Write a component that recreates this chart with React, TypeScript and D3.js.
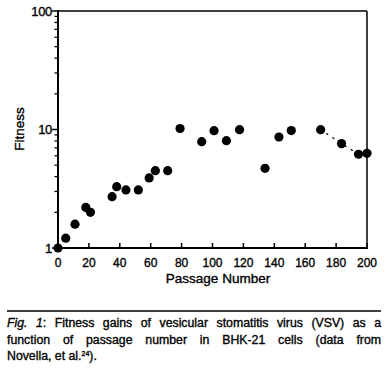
import React, { useLayoutEffect, useRef } from "react";
import * as d3 from "d3";

const passages = [0, 5, 11, 18, 21, 35, 38, 44, 52, 59, 63, 71, 79, 93, 101, 109, 117.5, 134, 143, 151, 170, 183.5, 194.5, 200];
const fitness = [1, 1.21, 1.59, 2.2, 2.0, 2.71, 3.29, 3.09, 3.09, 3.9, 4.49, 4.49, 10.2, 7.9, 9.77, 8.05, 9.96, 4.7, 8.64, 9.8, 9.96, 7.6, 6.18, 6.3];
const dottedFrom = 20; // index where dotted connector starts
const xTicks = [0, 20, 40, 60, 80, 100, 120, 140, 160, 180, 200];
const yMajor = [1, 10, 100];
const captionLines = [
  ["Fig. 1", ": Fitness gains of vesicular stomatitis virus (VSV) as a"],
  ["", "function of passage number in BHK-21 cells (data from"],
];

const W = 388, H = 373;
const left = 58, right = 367, top = 11, bottom = 248;
const font = "'Liberation Sans', Arial, sans-serif";
const thick = { stroke: "#000", strokeWidth: 0.35 };

export default function App() {
  const x = d3.scaleLinear().domain([0, 200]).range([left, right]);
  const y = d3.scaleLog().domain([1, 100]).range([bottom, top]);
  const minor: number[] = [];
  [1, 10].forEach((d) => { for (let k = 2; k <= 9; k++) minor.push(d * k); });
  const line = d3.line<number>().x((i) => x(passages[i])).y((i) => y(fitness[i]));
  const dotIdx = d3.range(dottedFrom, passages.length);
  const refs = [useRef<SVGTextElement>(null), useRef<SVGTextElement>(null)];
  const capLeft = 7, capRight = 381;
  useLayoutEffect(() => {
    refs.forEach((r, i) => {
      const el = r.current;
      if (!el) return;
      el.setAttribute("word-spacing", "0");
      const len = el.getComputedTextLength();
      const txt = captionLines[i].join("");
      const spaces = (txt.match(/ /g) || []).length;
      const ws = (capRight - capLeft - len) / spaces;
      el.setAttribute("word-spacing", String(ws));
    });
  }, []);
  return (
    <svg width={W} height={H} style={{ position: "absolute", left: 0, top: 0, background: "#fff" }} fontFamily={font}>
      {/* frame */}
      <line x1={left} x2={right} y1={top} y2={top} stroke="#000" strokeWidth={1.5} />
      <line x1={right} x2={right} y1={top} y2={bottom} stroke="#000" strokeWidth={1.5} />
      <line x1={left} x2={left} y1={top - 1} y2={bottom + 1} stroke="#000" strokeWidth={2} />
      <line x1={left - 1} x2={right + 1} y1={bottom} y2={bottom} stroke="#000" strokeWidth={2} />
      {/* y ticks */}
      {yMajor.map((v) => (
        <g key={"ym" + v}>
          <line x1={left - 6} x2={left} y1={y(v)} y2={y(v)} stroke="#000" strokeWidth={1.5} />
          <text x={left - 6} y={y(v) + 4.5} textAnchor="end" fontSize={13} {...thick} letterSpacing={-0.3}>{v}</text>
        </g>
      ))}
      {minor.map((v) => (
        <line key={"yn" + v} x1={left - 3.5} x2={left} y1={y(v)} y2={y(v)} stroke="#000" strokeWidth={1.3} />
      ))}
      {/* x ticks */}
      {xTicks.map((v) => (
        <g key={"x" + v}>
          <line x1={x(v)} x2={x(v)} y1={bottom} y2={bottom - 5} stroke="#000" strokeWidth={1.5} />
          <text x={x(v)} y={bottom + 19} textAnchor="middle" fontSize={12} {...thick}>{v}</text>
        </g>
      ))}
      <text x={218} y={283} textAnchor="middle" fontSize={13.5} {...thick}>Passage Number</text>
      <text transform={`translate(24,${129}) rotate(-90)`} textAnchor="middle" fontSize={13.5} {...thick}>Fitness</text>
      {/* dotted connector */}
      <path d={line(dotIdx) || ""} fill="none" stroke="#000" strokeWidth={1.3} strokeDasharray="1.3 6" strokeLinecap="round" />
      {/* points */}
      {passages.map((p, i) => (
        <circle key={i} cx={x(p)} cy={y(fitness[i])} r={4.6} fill="#000" />
      ))}
      {/* caption */}
      <line x1={capLeft} x2={capRight} y1={311} y2={311} stroke="#000" strokeWidth={1.3} />
      <text ref={refs[0]} x={capLeft} y={327} fontSize={12.3} {...thick}>
        <tspan fontStyle="italic">{captionLines[0][0]}</tspan>{captionLines[0][1]}
      </text>
      <text ref={refs[1]} x={capLeft} y={343.5} fontSize={12.3} {...thick}>{captionLines[1][1]}</text>
      <text x={capLeft} y={359.5} fontSize={12.3} {...thick}>
        Novella, et al.<tspan fontSize={7} dy={-4}>24</tspan><tspan dy={4}>).</tspan>
      </text>
    </svg>
  );
}
